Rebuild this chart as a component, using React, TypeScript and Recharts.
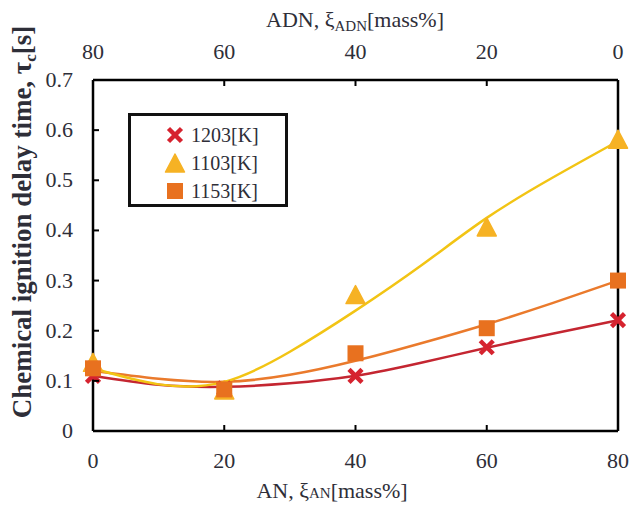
import React from 'react';
import { ComposedChart, Line, Scatter, XAxis, YAxis } from 'recharts';

// ---- data ----
const xMarks = [0, 20, 40, 60, 80];
const adnMarks = [80, 60, 40, 20, 0];
const yTicks = [0, 0.1, 0.2, 0.3, 0.4, 0.5, 0.6, 0.7];

const marks1203 = [0.11, 0.085, 0.11, 0.167, 0.221];
const marks1103 = [0.135, 0.08, 0.27, 0.405, 0.58];
const marks1153 = [0.125, 0.083, 0.155, 0.205, 0.30];

const xCurve = [0, 10, 20, 30, 40, 50, 60, 70, 80];
const curve1203 = [0.11, 0.092, 0.088, 0.095, 0.11, 0.136, 0.166, 0.194, 0.221];
const curve1103 = [0.125, 0.093, 0.098, 0.158, 0.24, 0.33, 0.425, 0.505, 0.578];
const curve1153 = [0.12, 0.104, 0.098, 0.112, 0.14, 0.175, 0.213, 0.255, 0.30];

const seriesNames = ['1203[K]', '1103[K]', '1153[K]'];

const FONT = 'Liberation Serif';
const TXT = '#2e2e38';
const C_RED = '#d6232f';
const C_RED_LINE = '#c42631';
const C_YEL = '#f6b224';
const C_YEL_LINE = '#f2c414';
const C_ORA = '#e8711f';
const C_ORA_LINE = '#ea7a2c';

const toPts = (xs: number[], ys: number[]) => xs.map((x, i) => ({ x, y: ys[i] }));

const XMark = (props: any) => {
  const { cx, cy } = props;
  if (cx == null || cy == null) return null;
  const s = 6.5;
  return (
    <g>
      <line x1={cx - s} y1={cy - s} x2={cx + s} y2={cy + s} stroke={C_RED} strokeWidth={4.5} />
      <line x1={cx - s} y1={cy + s} x2={cx + s} y2={cy - s} stroke={C_RED} strokeWidth={4.5} />
    </g>
  );
};
const TriMark = (props: any) => {
  const { cx, cy } = props;
  if (cx == null || cy == null) return null;
  return (
    <polygon
      points={`${cx},${cy - 10} ${cx - 9.5},${cy + 8} ${cx + 9.5},${cy + 8}`}
      fill={C_YEL}
      stroke={C_YEL}
      strokeWidth={1.5}
      strokeLinejoin="round"
    />
  );
};
const SqMark = (props: any) => {
  const { cx, cy } = props;
  if (cx == null || cy == null) return null;
  return <rect x={cx - 8} y={cy - 8} width={16} height={16} fill={C_ORA} />;
};

const BottomTick = (props: any) => {
  const { x, y, payload } = props;
  const v = payload.value;
  return (
    <g>
      {v !== 0 && v !== 80 && <line x1={x} x2={x} y1={y} y2={y - 6} stroke="#000" strokeWidth={2} />}
      <text x={x} y={y + 37} textAnchor="middle" fontFamily={FONT} fontSize={22} fill={TXT}>
        {v}
      </text>
    </g>
  );
};
const TopTick = (props: any) => {
  const { x, y, payload } = props;
  const v = payload.value;
  return (
    <g>
      {v !== 0 && v !== 80 && <line x1={x} x2={x} y1={y} y2={y + 6} stroke="#000" strokeWidth={2} />}
      <text x={x} y={y - 21} textAnchor="middle" fontFamily={FONT} fontSize={22} fill={TXT}>
        {v}
      </text>
    </g>
  );
};
const LeftTick = (props: any) => {
  const { x, y, payload } = props;
  const v = payload.value;
  const label = v === 0 ? '0' : Number(v).toFixed(1);
  return (
    <g>
      {v > 0.001 && v < 0.69 && <line x1={x} x2={x + 6} y1={y} y2={y} stroke="#000" strokeWidth={2} />}
      <text x={x - 20} y={y + 7} textAnchor="end" fontFamily={FONT} fontSize={22} fill={TXT}>
        {label}
      </text>
    </g>
  );
};

const BottomTitle = () => (
  <text x={332} y={498} textAnchor="middle" fontFamily={FONT} fontSize={22} fill={TXT}>
    AN, ξ<tspan fontSize={15}>AN</tspan>[mass%]
  </text>
);
const TopTitle = () => (
  <text x={355} y={27} textAnchor="middle" fontFamily={FONT} fontSize={22} fill={TXT}>
    ADN, ξ<tspan fontSize={15} dy={4}>ADN</tspan>
    <tspan dy={-4}>[mass%]</tspan>
  </text>
);
const LeftTitle = () => (
  <text
    x={0}
    y={0}
    transform="translate(31,222) rotate(-90)"
    textAnchor="middle"
    fontFamily={FONT}
    fontSize={27}
    fontWeight="bold"
    fill={TXT}
  >
    Chemical ignition delay time, τ<tspan fontSize={17} dy={5}>c</tspan>
    <tspan dy={-5}>[s]</tspan>
  </text>
);

const legendItems = [
  { name: seriesNames[0], shape: 'x' },
  { name: seriesNames[1], shape: 'tri' },
  { name: seriesNames[2], shape: 'sq' },
];

const LegendBox = () => (
  <div
    style={{
      position: 'absolute',
      left: 128,
      top: 113,
      width: 160,
      height: 94,
      boxSizing: 'border-box',
      border: '3px solid #111',
      background: '#fff',
      fontFamily: FONT,
      fontSize: 20,
      color: TXT,
    }}
  >
    {legendItems.map((it, i) => (
      <div
        key={it.name}
        style={{ position: 'absolute', left: 33, top: 6 + i * 28, height: 26, display: 'flex', alignItems: 'center' }}
      >
        <svg width={22} height={22} style={{ marginRight: 5 }}>
          {it.shape === 'x' && <XMark cx={11} cy={11} />}
          {it.shape === 'tri' && <TriMark cx={11} cy={12} />}
          {it.shape === 'sq' && <SqMark cx={11} cy={11} />}
        </svg>
        <span>{it.name}</span>
      </div>
    ))}
  </div>
);

export default function App() {
  const axisLine = { stroke: '#000', strokeWidth: 2.5 };
  return (
    <div style={{ position: 'absolute', left: 0, top: 0, width: 630, height: 507, background: '#fff' }}>
      <ComposedChart width={630} height={507} margin={{ top: 0, right: 0, bottom: 0, left: 0 }}>
        <XAxis
          xAxisId="bottom"
          type="number"
          dataKey="x"
          domain={[0, 80]}
          ticks={xMarks}
          tick={<BottomTick />}
          tickLine={false}
          tickSize={0}
          tickMargin={0}
          axisLine={axisLine}
          height={76}
          label={<BottomTitle />}
        />
        <XAxis
          xAxisId="top"
          orientation="top"
          type="number"
          dataKey="x"
          domain={[0, 80]}
          reversed
          ticks={xMarks}
          tick={<TopTick />}
          tickLine={false}
          tickSize={0}
          tickMargin={0}
          axisLine={axisLine}
          height={80}
          label={<TopTitle />}
        />
        <YAxis
          yAxisId="left"
          type="number"
          dataKey="y"
          domain={[0, 0.7]}
          ticks={yTicks}
          tick={<LeftTick />}
          tickLine={false}
          tickSize={0}
          tickMargin={0}
          axisLine={axisLine}
          width={93}
          label={<LeftTitle />}
        />
        <YAxis
          yAxisId="right"
          orientation="right"
          type="number"
          dataKey="y"
          domain={[0, 0.7]}
          tick={false}
          tickLine={false}
          axisLine={axisLine}
          width={12}
        />
        {/* ADN-scale series (same measurements, plotted against the reversed top axis), kept invisible */}
        <Line
          xAxisId="top"
          yAxisId="right"
          data={toPts(adnMarks, marks1153)}
          dataKey="y"
          stroke="none"
          dot={false}
          activeDot={false}
          legendType="none"
          isAnimationActive={false}
        />
        <Line
          xAxisId="bottom"
          yAxisId="left"
          data={toPts(xCurve, curve1203)}
          dataKey="y"
          type="natural"
          stroke={C_RED_LINE}
          strokeWidth={2.5}
          dot={false}
          isAnimationActive={false}
        />
        <Line
          xAxisId="bottom"
          yAxisId="left"
          data={toPts(xCurve, curve1153)}
          dataKey="y"
          type="natural"
          stroke={C_ORA_LINE}
          strokeWidth={2.5}
          dot={false}
          isAnimationActive={false}
        />
        <Line
          xAxisId="bottom"
          yAxisId="left"
          data={toPts(xCurve, curve1103)}
          dataKey="y"
          type="natural"
          stroke={C_YEL_LINE}
          strokeWidth={2.5}
          dot={false}
          isAnimationActive={false}
        />
        <Scatter
          name={seriesNames[1]}
          xAxisId="bottom"
          yAxisId="left"
          data={toPts(xMarks, marks1103)}
          shape={<TriMark />}
          isAnimationActive={false}
        />
        <Scatter
          name={seriesNames[0]}
          xAxisId="bottom"
          yAxisId="left"
          data={toPts(xMarks, marks1203)}
          shape={<XMark />}
          isAnimationActive={false}
        />
        <Scatter
          name={seriesNames[2]}
          xAxisId="bottom"
          yAxisId="left"
          data={toPts(xMarks, marks1153)}
          shape={<SqMark />}
          isAnimationActive={false}
        />
      </ComposedChart>
      <LegendBox />
    </div>
  );
}
